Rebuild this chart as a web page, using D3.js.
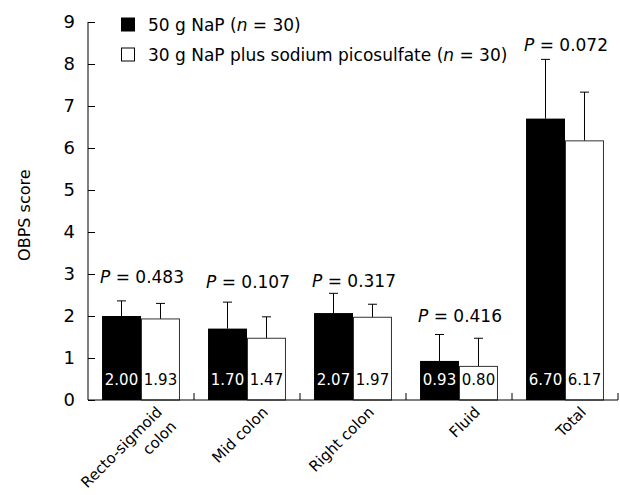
<!DOCTYPE html>
<html>
<head>
<meta charset="utf-8">
<script src="https://cdn.jsdelivr.net/npm/d3@7"></script>
<style>
  body { margin: 0; background: #fff; }
  svg { font-family: "DejaVu Sans", Verdana, sans-serif; }
</style>
</head>
<body>
<svg id="chart"></svg>
<script>
const categories = [["Recto-sigmoid", "colon"], ["Mid colon"], ["Right colon"], ["Fluid"], ["Total"]];
const seriesNames = ["50 g NaP", "30 g NaP plus sodium picosulfate"];
const meanNaP = [2.00, 1.70, 2.07, 0.93, 6.70];
const meanPico = [1.93, 1.47, 1.97, 0.80, 6.17];
const sdNaP = [0.36, 0.63, 0.47, 0.63, 1.41];
const sdPico = [0.37, 0.51, 0.31, 0.67, 1.16];
const pValues = ["0.483", "0.107", "0.317", "0.416", "0.072"];
const pLabelY = [2.79, 2.67, 2.70, 1.86, 8.32];
const yTicks = [0, 1, 2, 3, 4, 5, 6, 7, 8, 9];

const margin = { top: 22, right: 2, bottom: 95, left: 88 };
const W = 620, H = 495;
const width = W - margin.left - margin.right;
const height = H - margin.top - margin.bottom;

const svg = d3.select("#chart")
    .attr("width", W)
    .attr("height", H)
  .append("g")
    .attr("transform", `translate(${margin.left},${margin.top})`);

const catKeys = categories.map(c => c.join(" "));

const x0 = d3.scaleBand()
    .domain(catKeys)
    .range([0, width])
    .padding(0);

const x1 = d3.scaleBand()
    .domain([0, 1])
    .range([0, x0.bandwidth()])
    .paddingInner(0)
    .paddingOuter(0.36);

const y = d3.scaleLinear()
    .domain([0, 9])
    .range([height, 0]);

const rows = catKeys.map((k, i) => ({
  key: k,
  lines: categories[i],
  vals: [
    { s: 0, mean: meanNaP[i], sd: sdNaP[i] },
    { s: 1, mean: meanPico[i], sd: sdPico[i] }
  ],
  p: pValues[i],
  py: pLabelY[i]
}));

// y axis, ticks pointing inward
const yAxis = svg.append("g")
    .call(d3.axisRight(y).tickValues(yTicks).tickSize(7).tickFormat(""));
yAxis.select(".domain").remove();
yAxis.append("line")
    .attr("y1", y(9)).attr("y2", y(0))
    .attr("stroke", "#000");
yAxis.selectAll(".tick line").attr("stroke", "#000");

svg.append("g").selectAll("text")
    .data(yTicks)
  .enter().append("text")
    .attr("x", -13)
    .attr("y", d => y(d))
    .attr("dy", "0.36em")
    .attr("text-anchor", "end")
    .attr("font-size", 18)
    .text(d => d);

svg.append("text")
    .attr("transform", `translate(${24 - margin.left},${y(4.4)}) rotate(-90)`)
    .attr("text-anchor", "middle")
    .attr("dy", "0.36em")
    .attr("font-size", 16)
    .text("OBPS score");

// bars
const group = svg.selectAll(".grp")
    .data(rows)
  .enter().append("g")
    .attr("class", "grp")
    .attr("transform", d => `translate(${x0(d.key)},0)`);

group.selectAll(".err")
    .data(d => d.vals)
  .enter().append("g")
    .attr("class", "err")
    .each(function(d) {
      const g = d3.select(this);
      const cx = x1(d.s) + x1.bandwidth() / 2;
      g.append("line")
          .attr("x1", cx).attr("x2", cx)
          .attr("y1", y(d.mean)).attr("y2", y(d.mean + d.sd))
          .attr("stroke", "#000");
      g.append("line")
          .attr("x1", cx - 4.5).attr("x2", cx + 4.5)
          .attr("y1", y(d.mean + d.sd)).attr("y2", y(d.mean + d.sd))
          .attr("stroke", "#000");
    });

group.selectAll("rect")
    .data(d => d.vals)
  .enter().append("rect")
    .attr("x", d => x1(d.s) + (d.s === 1 ? 0.5 : 0))
    .attr("y", d => y(d.mean))
    .attr("width", d => x1.bandwidth() - (d.s === 1 ? 1 : 0))
    .attr("height", d => y(0) - y(d.mean))
    .attr("fill", d => d.s === 0 ? "#000" : "#fff")
    .attr("stroke", d => d.s === 0 ? "none" : "#333")
    .attr("stroke-width", 1);

group.selectAll(".val")
    .data(d => d.vals)
  .enter().append("text")
    .attr("class", "val")
    .attr("x", d => x1(d.s) + x1.bandwidth() / 2)
    .attr("y", y(0) - 15)
    .attr("text-anchor", "middle")
    .attr("font-size", 15)
    .attr("fill", d => d.s === 0 ? "#fff" : "#000")
    .text(d => d.mean.toFixed(2));

// P labels
const pl = group.append("text")
    .attr("x", x0.bandwidth() / 2 + 1)
    .attr("y", d => y(d.py))
    .attr("text-anchor", "middle")
    .attr("font-size", 17);
pl.append("tspan").attr("font-style", "italic").text("P");
pl.append("tspan").text(d => " = " + d.p);

// x axis
svg.append("line")
    .attr("x1", 0).attr("x2", width)
    .attr("y1", y(0)).attr("y2", y(0))
    .attr("stroke", "#000");

svg.append("g").selectAll("line")
    .data(catKeys.slice(1).map(k => x0(k)).concat([width]))
  .enter().append("line")
    .attr("x1", d => d).attr("x2", d => d)
    .attr("y1", y(0)).attr("y2", y(0) - 7)
    .attr("stroke", "#000");

const xl = group.append("text")
    .attr("transform", d => `translate(${x0.bandwidth() / 2 + 22},${y(0) + 13}) rotate(-45)`)
    .attr("text-anchor", "end")
    .attr("font-size", 15);
xl.selectAll("tspan")
    .data(d => d.lines)
  .enter().append("tspan")
    .attr("x", 0)
    .attr("dy", (d, i) => i === 0 ? 0 : "1.35em")
    .text(d => d);

// legend
const legend = svg.append("g")
    .attr("transform", `translate(${121 - margin.left},${25 - margin.top})`);

const li = legend.selectAll("g")
    .data(seriesNames)
  .enter().append("g")
    .attr("transform", (d, i) => `translate(0,${i * 30})`);

li.append("rect")
    .attr("x", 0.5).attr("y", -7)
    .attr("width", 13).attr("height", 13)
    .attr("fill", (d, i) => i === 0 ? "#000" : "#fff")
    .attr("stroke", "#000");

const lt = li.append("text")
    .attr("x", 27)
    .attr("dy", "0.36em")
    .attr("font-size", 17);
lt.append("tspan").text(d => d + " (");
lt.append("tspan").attr("font-style", "italic").text("n");
lt.append("tspan").text(" = 30)");
</script>
</body>
</html>
